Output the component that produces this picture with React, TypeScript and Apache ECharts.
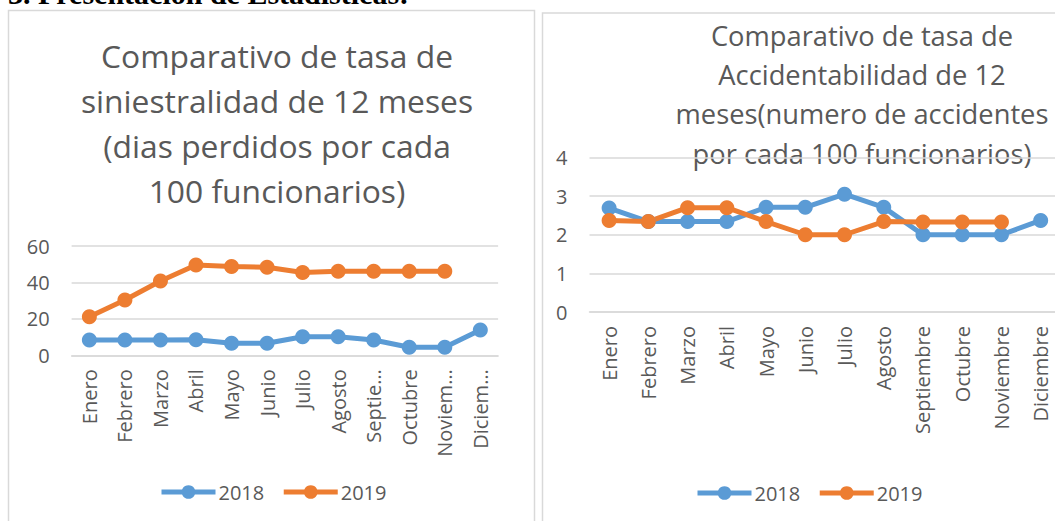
import React, { useEffect, useRef } from "react";
import * as echarts from "echarts";

const months = ["Enero", "Febrero", "Marzo", "Abril", "Mayo", "Junio", "Julio", "Agosto", "Septiembre", "Octubre", "Noviembre", "Diciembre"];
const leftTickLabels = ["Enero", "Febrero", "Marzo", "Abril", "Mayo", "Junio", "Julio", "Agosto", "Septie…", "Octubre", "Noviem…", "Diciem…"];
const seriesNames = ["2018", "2019"];

const siniestralidad2018 = [8.4, 8.4, 8.4, 8.5, 6.6, 6.6, 10.2, 10.2, 8.4, 4.4, 4.4, 13.9];
const siniestralidad2019 = [21.2, 30.4, 40.8, 49.6, 48.7, 48.3, 45.4, 46.1, 46.1, 46.1, 46.1, null];

const accidentabilidad2018 = [2.69, 2.34, 2.34, 2.34, 2.71, 2.71, 3.05, 2.71, 2.0, 2.0, 2.0, 2.37];
const accidentabilidad2019 = [2.37, 2.34, 2.7, 2.7, 2.34, 2.0, 2.0, 2.34, 2.33, 2.33, 2.33];

const leftYTicks = { min: 0, max: 60, interval: 20 };
const rightYTicks = { min: 0, max: 4, interval: 1 };

const heading = "3. Presentación de Estadísticas:";
const leftTitle = "Comparativo de tasa de\nsiniestralidad de 12 meses\n(dias perdidos por cada\n100 funcionarios)";
const rightTitle = "Comparativo de tasa de\nAccidentabilidad de 12\nmeses(numero de accidentes\npor cada 100 funcionarios)";

const BLUE = "#5B9BD5";
const ORANGE = "#ED7D31";
const GRAY_TEXT = "#595959";
const GRID = "#d9d9d9";
const FONT = "Open Sans";

export default function App() {
  const ref = useRef<HTMLDivElement>(null);
  useEffect(() => {
    if (!ref.current) return;
    const chart = echarts.init(ref.current, null, { renderer: "svg" });
    const axisLabelY = { color: GRAY_TEXT, fontSize: 20, fontFamily: FONT, margin: 22 };
    const catAxis = (gridIndex: number, formatter?: any) => ({
      type: "category",
      gridIndex,
      data: months,
      boundaryGap: true,
      axisTick: { show: false },
      axisLine: { lineStyle: { color: GRID, width: 1.5 } },
      axisLabel: {
        rotate: 90,
        interval: 0,
        color: GRAY_TEXT,
        fontSize: 20,
        fontFamily: FONT,
        margin: 14,
        formatter,
      },
    });
    const valAxis = (gridIndex: number, t: any) => ({
      type: "value",
      gridIndex,
      min: t.min,
      max: t.max,
      interval: t.interval,
      axisLine: { show: false },
      axisTick: { show: false },
      axisLabel: axisLabelY,
      splitLine: { lineStyle: { color: GRID, width: 1.5 } },
    });
    const lineSeries = (name: string, data: any[], color: string, idx: number) => ({
      type: "line",
      name,
      data,
      xAxisIndex: idx,
      yAxisIndex: idx,
      color,
      symbol: "circle",
      symbolSize: 15,
      showSymbol: true,
      lineStyle: { width: 5, color },
      itemStyle: { color },
    });
    const legendCommon = {
      orient: "horizontal",
      itemWidth: 54,
      itemHeight: 17,
      itemGap: 17,
      data: seriesNames,
      lineStyle: { width: 5 },
      textStyle: { color: GRAY_TEXT, fontSize: 20, fontFamily: FONT, padding: [0, 0, 0, -2] },
      selectedMode: false,
    };
    chart.setOption({
      animation: false,
      backgroundColor: "#ffffff",
      grid: [
        { left: 71.6, top: 246, width: 426.5, height: 109.3, containLabel: false },
        { left: 589.5, top: 157.5, width: 470.8, height: 154.5, containLabel: false },
      ],
      xAxis: [catAxis(0, (_v: string, i: number) => leftTickLabels[i]), catAxis(1)],
      yAxis: [valAxis(0, leftYTicks), valAxis(1, rightYTicks)],
      legend: [
        { ...legendCommon, left: 154, top: 477 },
        { ...legendCommon, left: 690, top: 478 },
      ],
      series: [
        lineSeries(seriesNames[0], siniestralidad2018, BLUE, 0),
        lineSeries(seriesNames[1], siniestralidad2019, ORANGE, 0),
        lineSeries(seriesNames[0], accidentabilidad2018, BLUE, 1),
        lineSeries(seriesNames[1], accidentabilidad2019, ORANGE, 1),
      ],
      graphic: [
        {
          type: "rect",
          silent: true,
          shape: { x: 8.5, y: 10.5, width: 526, height: 600 },
          style: { fill: "none", stroke: GRID, lineWidth: 1.5 },
        },
        {
          type: "rect",
          silent: true,
          shape: { x: 542.5, y: 13, width: 600, height: 600 },
          style: { fill: "none", stroke: GRID, lineWidth: 1.5 },
        },
        {
          type: "text",
          silent: true,
          x: 8,
          y: -21.5,
          style: {
            text: heading,
            fontFamily: "Liberation Serif",
            fontWeight: "bold",
            fontSize: 30,
            lineHeight: 30,
            fill: "#000000",
            align: "left",
            verticalAlign: "top",
          },
        },
        {
          type: "text",
          silent: true,
          x: 277,
          y: 32.5,
          style: {
            text: leftTitle,
            fontFamily: FONT,
            fontSize: 31.8,
            lineHeight: 45,
            fill: GRAY_TEXT,
            align: "center",
            verticalAlign: "top",
          },
        },
        {
          type: "text",
          silent: true,
          x: 862,
          y: 15.5,
          style: {
            text: rightTitle,
            fontFamily: FONT,
            fontSize: 27.3,
            lineHeight: 39.3,
            fill: GRAY_TEXT,
            align: "center",
            verticalAlign: "top",
          },
        },
      ],
    });
    return () => chart.dispose();
  }, []);
  return (
    <div style={{ position: "fixed", left: 0, top: 0, width: 1055, height: 521, overflow: "hidden", background: "#fff" }}>
      <div ref={ref} style={{ width: 1080, height: 521 }} />
    </div>
  );
}
